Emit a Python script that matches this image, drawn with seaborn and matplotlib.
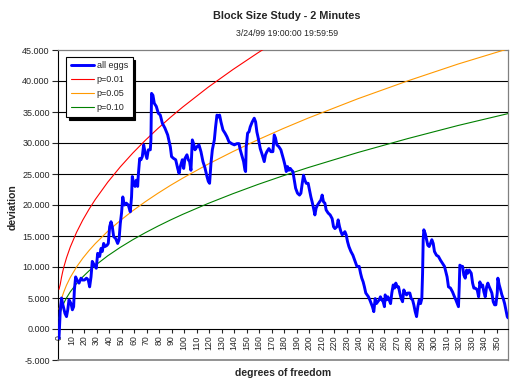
import matplotlib
matplotlib.use("Agg")
import matplotlib.pyplot as plt
import seaborn as sns
import pandas as pd

# ---------------- data ----------------
egg_x = [0, 1, 2, 3, 4.8, 6, 7, 8, 9.6, 10.7, 11.7, 12.3, 13.3, 14.4, 16, 17.6, 18.7, 20.3, 22, 23.4,
         24.5, 25.6, 26.6, 28.2, 29.8, 30.9, 32.5, 33.6, 34.6, 35.7, 36.8, 38.4, 39.4, 40.5, 41.6, 42.6,
         43.7, 45.3, 46.9, 48, 49, 50, 51, 52.2, 53.8, 55.4, 57, 58, 58.6, 59.7, 60.8, 61.8, 62.9, 63.4,
         64.5, 65.5, 66.6, 67.7, 68.7, 70.3, 71.4, 73, 73.5, 74, 75.1, 76.2, 77.8, 79.4, 81, 82.6, 84.7,
         86.9, 89, 90, 91.7, 93.3, 94.9, 96, 97, 98.6, 99.7, 100.7, 102.3, 103.4, 104.4, 105.5, 106.6,
         107.6, 108.7, 110.3, 111.9, 113.5, 115.1, 116.7, 118.3, 119.4, 120.4, 121.5, 122.6, 124.2,
         125.2, 126.3, 127.4, 128.4, 129.5, 131.1, 132.7, 134.3, 135.9, 138, 140.2, 142.3, 143.9, 144.9,
         146, 147.6, 148.7, 149.2, 149.7, 150.8, 151.9, 152.9, 154.5, 156.1, 157.2, 158.2, 159.3, 160.9,
         162.5, 164.1, 165.1, 166.2, 167.8, 169.4, 171, 172.1, 173.1, 174.2, 175.8, 177.4, 178.5, 179.6,
         180.6, 181.7, 182.7, 183.8, 184.9, 186, 187, 188.1, 189.2, 190.7, 192.3, 193.4, 194.5, 195.5,
         196.6, 197.7, 199.2, 200.3, 201.4, 202.4, 203.5, 204.6, 205.6, 206.7, 208.3, 209.4, 210.4,
         211.5, 212.6, 213.6, 215.2, 216.8, 218.4, 219.5, 220.6, 222.2, 223.2, 224.3, 225.4, 226.4,
         227.5, 228.6, 229.6, 230.7, 231.8, 233.4, 235, 236.6, 238.2, 240, 241.1, 242.1, 243.2, 244.2,
         245.3, 246.4, 247.4, 248.5, 249.6, 250.6, 251.7, 252.8, 253.8, 254.9, 256, 257, 258.1, 259.2,
         260.2, 260.8, 261.9, 262.9, 264, 265.1, 266.1, 267.2, 268.3, 269.3, 270.4, 271.5, 272.5, 273.6,
         274.7, 275.7, 276.8, 277.9, 278.9, 280.5, 281.6, 282.7, 283.7, 284.8, 285.9, 286.9, 288, 289.1,
         290.1, 290.7, 291.2, 291.7, 292.8, 293.9, 294.9, 296, 297, 298.1, 299.2, 300.2, 301.8, 303.4,
         305, 306.6, 308.2, 309.3, 310.3, 311.4, 313, 314.6, 316.2, 317.3, 318.4, 319.4, 320, 320.5,
         321.6, 322.7, 323.7, 324.8, 325.9, 326.9, 328, 329.6, 330.7, 331.7, 332.8, 334.4, 335.5, 336.5,
         337.6, 338.7, 339.7, 340.8, 341.9, 342.9, 344, 345.1, 346.1, 347.2, 348.3, 349.3, 350.4, 350.9,
         352, 353.1, 354.1, 355.2, 356.3, 357.3, 358.4, 359]
egg_y = [-1.5, 3.0, 5.0, 4.0, 2.5, 2.0, 3.1, 4.7, 4.1, 3.1, 3.6, 6.3, 8.4, 7.9, 7.4, 8.2, 7.9, 7.9, 8.2, 7.9,
         6.8, 8.4, 10.9, 10.3, 9.8, 12.2, 11.7, 13.0, 12.5, 13.8, 13.3, 13.5, 13.8, 16.5, 17.3, 16.5,
         14.9, 14.6, 13.8, 14.4, 17.0, 18.7, 21.3, 20.0, 20.3, 20.0, 18.9, 21.3, 24.6, 23.5, 23.0, 24.0, 23.0, 24.8,
         27.5, 27.3, 27.8, 29.7, 28.6, 27.5, 28.9, 28.9, 30.5, 38.0, 37.7, 36.4, 35.9, 34.8, 34.5, 33.2, 32.4,
         31.3, 29.4, 27.8, 27.5, 27.3, 25.9, 25.1, 26.2, 27.3, 25.9, 27.5, 28.1, 27.3, 27.0, 25.6, 30.5,
         29.9, 28.9, 29.4, 29.7, 28.6, 27.0, 26.0, 24.6, 23.8, 23.5, 26.7, 28.9, 30.5,
         32.6, 34.5, 34.2, 34.5, 33.4, 32.1, 31.6, 31.0, 30.2, 29.9, 29.7, 29.9, 29.9, 28.9,
         28.1, 27.0, 25.6, 25.4, 29.4, 31.6, 31.8, 32.6, 33.4, 34.0, 33.4, 31.8, 30.8, 29.1,
         28.1, 27.0, 28.1, 28.6, 29.1, 28.6, 28.6, 31.3, 30.8, 29.7, 29.4, 28.9, 28.1, 27.3,
         26.5, 25.4, 26.2, 25.6, 25.9, 25.6, 25.4, 24.0, 22.7, 21.9, 21.6, 21.9, 23.5, 24.8,
         24.0, 23.5, 23.5, 22.4, 21.3, 20.5, 19.5, 18.4, 19.5, 20.0, 20.5, 20.8, 21.6,
         20.5, 20.3, 19.2, 18.7, 18.4, 17.8, 16.5, 16.2, 16.5, 17.6, 16.5, 15.7, 15.2,
         15.4, 15.7, 15.2, 14.1, 13.3, 12.5, 11.9, 11.0, 10.1, 10.1, 9.0, 8.2, 7.6, 6.8,
         5.8, 5.5, 5.2, 4.7, 4.1, 3.6, 2.8, 4.9, 4.1, 4.4, 4.7, 5.2, 4.7, 4.4,
         3.6, 5.5, 4.7, 5.2, 4.7, 4.1, 5.8, 7.1, 6.6, 7.4, 6.8, 6.8, 5.8, 4.9,
         4.4, 6.3, 5.8, 5.5, 5.8, 5.8, 4.9, 4.7, 3.9, 2.8, 2.0, 3.6, 4.7, 4.1,
         4.9, 9.0, 14.4, 16.0, 15.4, 14.4, 13.5, 13.3, 13.8, 14.4, 13.8, 12.5, 11.9, 11.7,
         11.1, 10.6, 10.1, 9.2, 8.4, 6.8, 6.6, 6.0, 5.2, 4.7, 4.1, 3.6, 6.8, 10.3,
         10.1, 10.1, 8.7, 8.2, 9.5, 9.0, 9.5, 9.0, 7.4, 6.6, 6.6, 6.3, 5.2, 7.6,
         6.8, 7.1, 6.0, 5.2, 6.8, 7.4, 6.8, 6.3, 5.8, 4.4, 3.9, 3.9, 5.8, 8.2,
         7.1, 6.3, 5.5, 4.9, 4.1, 3.1, 2.0, 1.8]

p01_x = [0, 1, 2, 3, 4, 6, 9, 14, 19, 24, 29, 39, 49, 59, 69, 79, 89, 99, 119, 139, 159, 169]
p01_y = [6.40, 7.21, 8.34, 9.28, 10.09, 11.48, 13.21, 15.58, 17.57, 19.31, 20.89, 23.69, 26.15,
         28.38, 30.43, 32.33, 34.12, 35.81, 38.96, 41.84, 44.54, 45.82]

p05_x = [0, 1, 2, 3, 4, 6, 9, 14, 19, 24, 29, 39, 49, 59, 69, 79, 89, 99, 119, 139, 159, 179, 199,
         239, 279, 319, 359]
p05_y = [3.20, 3.99, 4.81, 5.49, 6.07, 7.07, 8.31, 10.00, 11.41, 12.65, 13.77, 15.76, 17.50, 19.08,
         20.53, 21.88, 23.15, 24.34, 26.57, 28.61, 30.52, 32.31, 34.00, 37.14, 40.03, 42.73, 45.19]

p10_x = [0, 1, 2, 3, 4, 6, 9, 14, 19, 24, 29, 39, 49, 59, 69, 79, 89, 99, 119, 139, 159, 179, 199,
         239, 279, 319, 359]
p10_y = [1.71, 2.61, 3.25, 3.78, 4.24, 5.02, 5.99, 7.31, 8.41, 9.38, 10.26, 11.81, 13.17, 14.40,
         15.53, 16.58, 17.57, 18.50, 20.23, 21.82, 23.31, 24.70, 26.02, 28.47, 30.72, 32.82, 34.74]

x_ticks = list(range(0, 351, 10))
y_ticks = list(range(-5, 46, 5))

title = "Block Size Study - 2 Minutes"
subtitle = "3/24/99 19:00:00 19:59:59"

# ---------------- drawing ----------------
sns.set_style("white")
plt.rcParams['font.family'] = ['Liberation Sans', 'DejaVu Sans']

fig = plt.figure(figsize=(5.16, 3.84), dpi=100)
ax = fig.add_axes([58 / 516, 24 / 384, 450 / 516, 310 / 384])

for yv in y_ticks[2:-1]:
    ax.axhline(yv, color="black", lw=0.8, zorder=1)

sns.lineplot(x=p01_x, y=p01_y, ax=ax, color="#FF0000", lw=0.8, label="p=0.01", zorder=3)
sns.lineplot(x=p05_x, y=p05_y, ax=ax, color="#FF9900", lw=0.8, label="p=0.05", zorder=3)
sns.lineplot(x=p10_x, y=p10_y, ax=ax, color="#008000", lw=0.8, label="p=0.10", zorder=3)
sns.lineplot(x=egg_x, y=egg_y, ax=ax, color="#0000FF", lw=2.1, label="all eggs", zorder=4)

ax.set_xlim(-0.8, 359.0)
ax.set_ylim(-5, 45)

# spines
ax.spines['left'].set_color("black")
ax.spines['left'].set_linewidth(0.8)
ax.spines['bottom'].set_position(('data', 0))
ax.spines['bottom'].set_color("black")
ax.spines['bottom'].set_linewidth(0.8)
for s in ['top', 'right']:
    ax.spines[s].set_color("#808080")
    ax.spines[s].set_linewidth(0.9)
ax.axhline(-5, color="#808080", lw=1.2, zorder=5, clip_on=False)

ax.set_yticks(y_ticks)
ax.set_yticklabels([f"{v:.3f}" for v in y_ticks], fontsize=6.5)
ax.set_xticks(x_ticks)
ax.set_xticklabels([str(v) for v in x_ticks], fontsize=6.3, rotation=90)
ax.tick_params(axis='y', direction='out', length=4, width=0.8, pad=2, left=True)
ax.tick_params(axis='x', direction='out', length=3, width=0.8, pad=1.5, bottom=True)

ax.set_xlabel("")
ax.set_ylabel("")
fig.text(13 / 516, 1 - 207 / 384, "deviation", rotation=90, ha="center", va="center",
         fontsize=7.5, fontweight="bold")
fig.text(283 / 516, 1 - 373 / 384, "degrees of freedom", ha="center", va="center",
         fontsize=7.5, fontweight="bold")
fig.text(287 / 516, 1 - 16 / 384, title, ha="center", va="center", fontsize=7.8, fontweight="bold")
fig.text(287 / 516, 1 - 33 / 384, subtitle, ha="center", va="center", fontsize=6.3)

handles, labels = ax.get_legend_handles_labels()
order = [labels.index(l) for l in ["all eggs", "p=0.01", "p=0.05", "p=0.10"]]
leg = ax.legend([handles[i] for i in order], [labels[i] for i in order],
                loc="upper left", bbox_to_anchor=(0.018, 0.978), fontsize=6.5,
                frameon=True, fancybox=False, shadow={'color': 'black', 'alpha': 1.0},
                edgecolor="black", framealpha=1.0, borderpad=0.5, labelspacing=0.55,
                handlelength=2.6, handletextpad=0.3, borderaxespad=0)
leg.get_frame().set_linewidth(0.8)
leg.set_zorder(10)

fig.savefig("out.png", dpi=100)
